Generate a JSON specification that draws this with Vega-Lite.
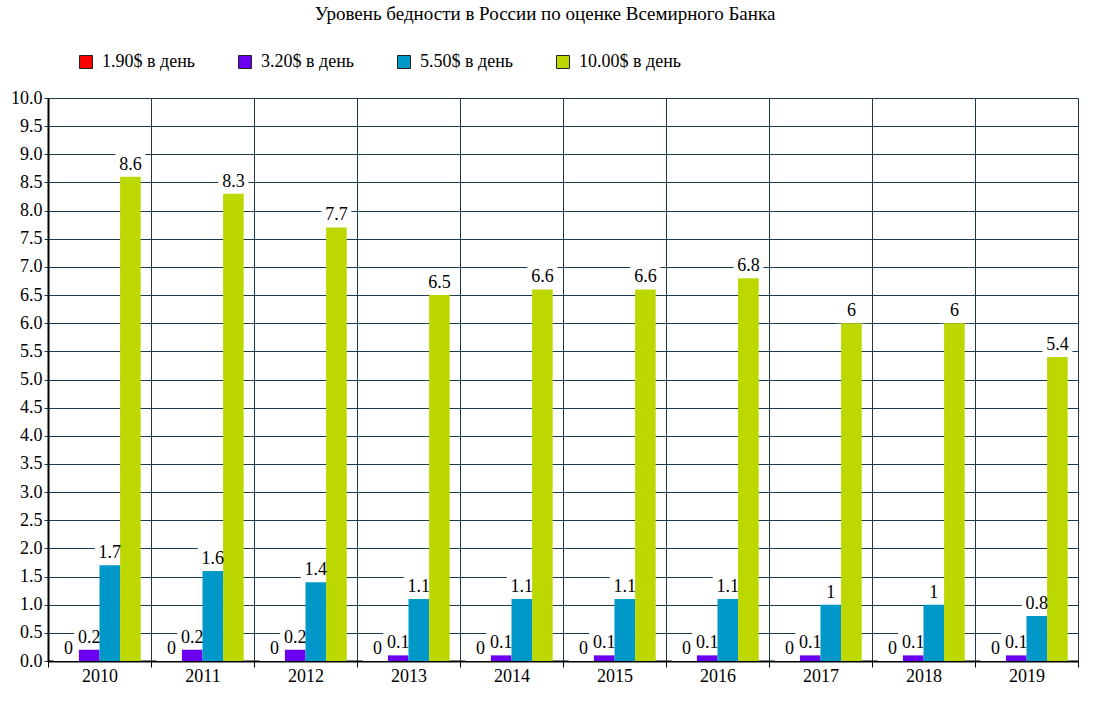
{
  "$schema": "https://vega.github.io/schema/vega-lite/v6.json",
  "width": 1030,
  "height": 563,
  "autosize": {"type": "none"},
  "padding": {"left": 48, "top": 98, "right": 17, "bottom": 54},
  "background": "white",
  "title": {
    "text": "Уровень бедности в России по оценке Всемирного Банка",
    "font": "Liberation Serif",
    "fontSize": 19,
    "fontWeight": "normal",
    "color": "black",
    "anchor": "middle",
    "frame": "group",
    "dx": -18,
    "offset": 29
  },
  "config": {
    "view": {"stroke": null},
    "font": "Liberation Serif"
  },
  "data": {
    "values": [
      {"year": "2010", "line": "1.90$ в день", "value": 0},
      {"year": "2010", "line": "3.20$ в день", "value": 0.2},
      {"year": "2010", "line": "5.50$ в день", "value": 1.7},
      {"year": "2010", "line": "10.00$ в день", "value": 8.6},
      {"year": "2011", "line": "1.90$ в день", "value": 0},
      {"year": "2011", "line": "3.20$ в день", "value": 0.2},
      {"year": "2011", "line": "5.50$ в день", "value": 1.6},
      {"year": "2011", "line": "10.00$ в день", "value": 8.3},
      {"year": "2012", "line": "1.90$ в день", "value": 0},
      {"year": "2012", "line": "3.20$ в день", "value": 0.2},
      {"year": "2012", "line": "5.50$ в день", "value": 1.4},
      {"year": "2012", "line": "10.00$ в день", "value": 7.7},
      {"year": "2013", "line": "1.90$ в день", "value": 0},
      {"year": "2013", "line": "3.20$ в день", "value": 0.1},
      {"year": "2013", "line": "5.50$ в день", "value": 1.1},
      {"year": "2013", "line": "10.00$ в день", "value": 6.5},
      {"year": "2014", "line": "1.90$ в день", "value": 0},
      {"year": "2014", "line": "3.20$ в день", "value": 0.1},
      {"year": "2014", "line": "5.50$ в день", "value": 1.1},
      {"year": "2014", "line": "10.00$ в день", "value": 6.6},
      {"year": "2015", "line": "1.90$ в день", "value": 0},
      {"year": "2015", "line": "3.20$ в день", "value": 0.1},
      {"year": "2015", "line": "5.50$ в день", "value": 1.1},
      {"year": "2015", "line": "10.00$ в день", "value": 6.6},
      {"year": "2016", "line": "1.90$ в день", "value": 0},
      {"year": "2016", "line": "3.20$ в день", "value": 0.1},
      {"year": "2016", "line": "5.50$ в день", "value": 1.1},
      {"year": "2016", "line": "10.00$ в день", "value": 6.8},
      {"year": "2017", "line": "1.90$ в день", "value": 0},
      {"year": "2017", "line": "3.20$ в день", "value": 0.1},
      {"year": "2017", "line": "5.50$ в день", "value": 1},
      {"year": "2017", "line": "10.00$ в день", "value": 6},
      {"year": "2018", "line": "1.90$ в день", "value": 0},
      {"year": "2018", "line": "3.20$ в день", "value": 0.1},
      {"year": "2018", "line": "5.50$ в день", "value": 1},
      {"year": "2018", "line": "10.00$ в день", "value": 6},
      {"year": "2019", "line": "1.90$ в день", "value": 0},
      {"year": "2019", "line": "3.20$ в день", "value": 0.1},
      {"year": "2019", "line": "5.50$ в день", "value": 0.8},
      {"year": "2019", "line": "10.00$ в день", "value": 5.4}
    ]
  },
  "encoding": {
    "x": {
      "field": "year",
      "type": "nominal",
      "title": null,
      "scale": {"paddingInner": 0, "paddingOuter": 0},
      "axis": {
        "labelAngle": 0,
        "labelFont": "Liberation Serif",
        "labelFontSize": 18,
        "labelColor": "black",
        "labelPadding": 0,
        "tickBand": "extent",
        "tickSize": 6,
        "tickColor": "black",
        "domainColor": "black",
        "domainWidth": 2,
        "grid": true,
        "gridColor": "#1b3a4c",
        "gridWidth": 1
      }
    },
    "xOffset": {
      "field": "line",
      "type": "nominal",
      "sort": ["1.90$ в день", "3.20$ в день", "5.50$ в день", "10.00$ в день"],
      "scale": {"paddingInner": 0, "paddingOuter": 0.5}
    },
    "y": {
      "field": "value",
      "type": "quantitative",
      "title": null,
      "scale": {"domain": [0, 10], "nice": false},
      "axis": {
        "values": [0, 0.5, 1, 1.5, 2, 2.5, 3, 3.5, 4, 4.5, 5, 5.5, 6, 6.5, 7, 7.5, 8, 8.5, 9, 9.5, 10],
        "format": ".1f",
        "labelFont": "Liberation Serif",
        "labelFontSize": 18,
        "labelColor": "black",
        "labelPadding": 2,
        "tickSize": 4,
        "tickColor": "#1b3a4c",
        "domainColor": "black",
        "domainWidth": 2,
        "gridColor": "#1b3a4c",
        "gridWidth": 1
      }
    }
  },
  "layer": [
    {
      "mark": {
        "type": "point",
        "shape": "M-1.25,-1L1.25,-1L1.25,1L-1.25,1Z",
        "size": 576,
        "filled": true,
        "color": "white",
        "opacity": 1,
        "strokeWidth": 0,
        "yOffset": -12
      },
      "encoding": {}
    },
    {
      "mark": {"type": "bar", "stroke": null},
      "encoding": {
        "color": {
          "field": "line",
          "type": "nominal",
          "sort": ["1.90$ в день", "3.20$ в день", "5.50$ в день", "10.00$ в день"],
          "scale": {
            "domain": ["1.90$ в день", "3.20$ в день", "5.50$ в день", "10.00$ в день"],
            "range": ["#ff0000", "#6b00f0", "#0098c8", "#bcd800"]
          },
          "legend": {
            "title": null,
            "orient": "none",
            "legendX": 29,
            "legendY": -45,
            "direction": "horizontal",
            "columns": 4,
            "gridAlign": "all",
            "columnPadding": 32,
            "padding": 0,
            "symbolType": "square",
            "symbolSize": 169,
            "symbolStrokeColor": "#222222",
            "symbolStrokeWidth": 1,
            "symbolOpacity": 1,
            "labelFont": "Liberation Serif",
            "labelFontSize": 18,
            "labelColor": "black",
            "labelOffset": 7
          }
        }
      }
    },
    {
      "mark": {
        "type": "text",
        "baseline": "bottom",
        "dy": -3,
        "font": "Liberation Serif",
        "fontSize": 18,
        "color": "black"
      },
      "encoding": {
        "text": {"field": "value", "type": "quantitative"}
      }
    }
  ]
}
